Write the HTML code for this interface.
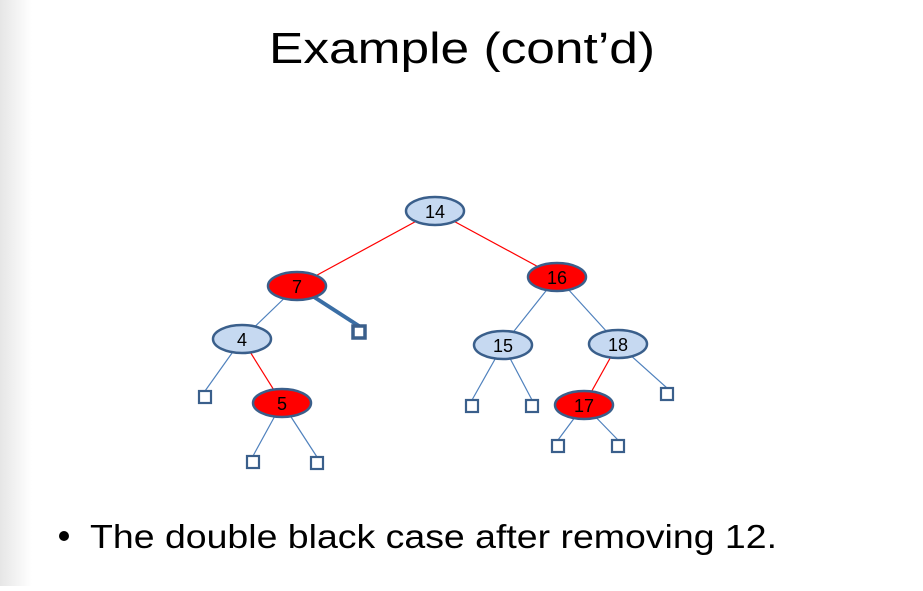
<!DOCTYPE html>
<html><head><meta charset="utf-8"><style>
html,body{margin:0;padding:0;background:#fff;}
body{width:923px;height:586px;overflow:hidden;position:relative;}
</style></head><body>
<svg width="923" height="586" viewBox="0 0 923 586" xmlns="http://www.w3.org/2000/svg">
<defs><linearGradient id="edge" x1="0" x2="1" y1="0" y2="0">
<stop offset="0" stop-color="#e6e6e6"/><stop offset="1" stop-color="#ffffff"/></linearGradient></defs>
<rect x="0" y="0" width="32" height="586" fill="url(#edge)"/>
<text x="462" y="63" text-anchor="middle" font-family="Liberation Sans, sans-serif" font-size="44" textLength="386" lengthAdjust="spacingAndGlyphs">Example (cont’d)</text>
<circle cx="64" cy="536" r="5" fill="#000"/>
<text x="90" y="548" font-family="Liberation Sans, sans-serif" font-size="33" textLength="687" lengthAdjust="spacingAndGlyphs">The double black case after removing 12.</text>
<g id="tree"></g>
</svg>
<script>
const nodeKeys=["14","7","16","4","5","15","18","17"];
const nodeColors=["black","red","red","black","red","black","black","red"];
const nodeX=[435,297,557,242,282,503,618,584];
const nodeY=[211,286,277,339,403,345,344,405];
const leafX=[359,205,253,317,472,532,667,558,618];
const leafY=[332,397,462,463,406,406,394,446,446];
const leafParent=[1,3,4,4,5,5,6,7,7];
const edgeFrom=[0,0,1,3,2,2,6];
const edgeTo=[1,2,3,4,5,6,7];
const edgeRed=[1,1,0,1,0,0,1];
const ns="http://www.w3.org/2000/svg";
const g=document.getElementById('tree');
function mk(t,a){const e=document.createElementNS(ns,t);for(const k in a)e.setAttribute(k,a[k]);return e;}
for(let i=0;i<edgeFrom.length;i++){
  const a=edgeFrom[i],b=edgeTo[i];
  const l=mk('line',{x1:nodeX[a],y1:nodeY[a],x2:nodeX[b],y2:nodeY[b],stroke:edgeRed[i]?'#ff0000':'#4f81bd','stroke-width':1.2});
  
  
  g.appendChild(l);
}
for(let i=0;i<leafX.length;i++){
  const p=leafParent[i];const thick=i===0;
  const l=mk('line',{x1:nodeX[p],y1:nodeY[p],x2:leafX[i],y2:leafY[i]-6,stroke:thick?'#3a6ea5':'#4f81bd','stroke-width':thick?4:1.2});
  
  
  g.appendChild(l);
}
for(let i=0;i<nodeKeys.length;i++){
  const e=mk('ellipse',{cx:nodeX[i],cy:nodeY[i],rx:29,ry:14,fill:nodeColors[i]==='red'?'#ff0000':'#c6d9f1',stroke:'#3a5f8b','stroke-width':2.5});
  
  
  g.appendChild(e);
  const t=mk('text',{x:nodeX[i],y:nodeY[i]+7,'text-anchor':'middle','font-family':'Liberation Sans, sans-serif','font-size':18,fill:'#000'});
  t.textContent=nodeKeys[i];
  
  
  g.appendChild(t);
}
for(let i=0;i<leafX.length;i++){
  const thick=i===0;
  const r=mk('rect',{x:leafX[i]-6,y:leafY[i]-6,width:12,height:12,fill:'#fff',stroke:'#3a5f8b','stroke-width':thick?3.5:2.2});
  
  
  g.appendChild(r);
}
</script>
</body></html>
